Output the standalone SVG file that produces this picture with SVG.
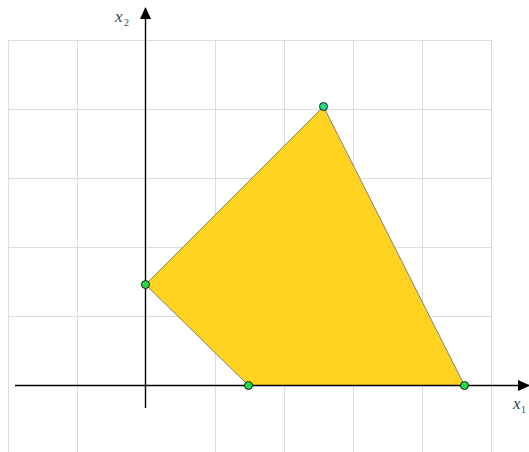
<svg xmlns="http://www.w3.org/2000/svg" width="529" height="452" viewBox="0 0 529 452">
<style>
.grid{stroke:#dcdcdc;stroke-width:1;fill:none}
.axis{stroke:#000;stroke-width:1.4;fill:none}
.lbl{font-family:"Liberation Serif","Times New Roman",serif;font-style:italic;font-size:17px;fill:#444}
.sub{font-family:"Liberation Serif","Times New Roman",serif;font-size:10px;fill:#444}
.pt{stroke:#1a1a1a;stroke-width:1}
</style>
<defs>
<marker id="ah" markerWidth="12" markerHeight="12" refX="11" refY="5.5" orient="auto" markerUnits="userSpaceOnUse">
<path d="M0,0 L12,5.5 L0,11 Z" fill="#000"/>
</marker>
</defs>
<rect width="529" height="452" fill="#fff"/>
<g id="grid" class="grid">
<path d="M8.5,40 V452 M77.5,40 V452 M215.5,40 V452 M284.5,40 V452 M353.5,40 V452 M422.5,40 V452 M491.5,40 V452"/>
<path d="M8,40.5 H491 M8,109.5 H491 M8,178.5 H491 M8,247.5 H491 M8,316.5 H491"/>
</g>
<g id="region">
<polygon points="145.5,284.5 323.5,106.5 464.5,385.5 248.5,385.5" fill="#ffd320" stroke="#808080" stroke-width="1"/>
</g>
<g id="connectors">
<line class="axis" x1="15" y1="385.5" x2="529" y2="385.5" marker-end="url(#ah)"/>
<line class="axis" x1="145.5" y1="408" x2="145.5" y2="8" marker-end="url(#ah)"/>
</g>
<g id="labels">
<text class="lbl" x="115" y="22">x</text><text class="sub" x="124" y="26">2</text>
<text class="lbl" x="513" y="409">x</text><text class="sub" x="521" y="413">1</text>
</g>
<g id="p1"><circle class="pt" cx="145.5" cy="284.5" r="4" fill="#22dd44"/></g>
<g id="p2"><circle class="pt" cx="323.5" cy="106.5" r="4" fill="#22dd88"/></g>
<g id="p3"><circle class="pt" cx="248.5" cy="385.5" r="4" fill="#22dd44"/></g>
<g id="p4"><circle class="pt" cx="464.5" cy="385.5" r="4" fill="#22dd44"/></g>
</svg>
